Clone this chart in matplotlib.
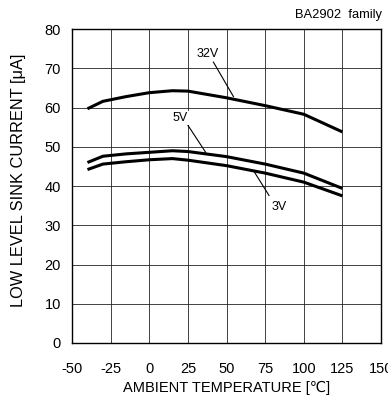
import matplotlib
matplotlib.use('Agg')
import matplotlib.pyplot as plt

plt.rcParams['font.family'] = ['Liberation Sans', 'DejaVu Sans']
plt.rcParams['axes.unicode_minus'] = False

# data
temp = [-40, -30, -15, 0, 15, 25, 50, 75, 100, 125]
i_32v = [59.7, 61.6, 62.8, 63.8, 64.3, 64.2, 62.5, 60.5, 58.3, 53.8]
i_5v = [46.0, 47.6, 48.2, 48.6, 49.0, 48.8, 47.5, 45.6, 43.3, 39.4]
i_3v = [44.2, 45.6, 46.2, 46.7, 47.0, 46.6, 45.2, 43.3, 41.0, 37.5]

# curve labels: text, text position, leader start, leader end
labels = [
    ('32V', (38, 73.6), (41.5, 71.6), (54.5, 62.8)),
    ('5V', (20, 57.3), (24.5, 55.8), (36.5, 48.6)),
    ('3V', (84, 34.6), (77.5, 37.6), (68, 43.6)),
]

fig = plt.figure(figsize=(3.88, 3.99), dpi=100)
ax = fig.add_axes([0.1856, 0.1404, 0.7964, 0.7866])

for y in (i_32v, i_5v, i_3v):
    ax.plot(temp, y, color='black', lw=2.2, solid_capstyle='butt', zorder=3)

ax.set_xlim(-50, 150)
ax.set_ylim(0, 80)
ax.set_xticks(range(-50, 151, 25))
ax.set_yticks(range(0, 81, 10))
ax.grid(True, color='#222222', lw=0.6)
ax.tick_params(length=0, labelsize=10.5)
ax.tick_params(axis='x', pad=14)
ax.tick_params(axis='y', pad=8)
for s in ax.spines.values():
    s.set_linewidth(1.0)

ax.set_xlabel('AMBIENT TEMPERATURE [\u2103]', fontsize=10.5, labelpad=3)
ax.set_ylabel('LOW LEVEL SINK CURRENT [\u03bcA]', fontsize=11.8)
ax.yaxis.set_label_coords(-0.15, 0.517)

for txt, tpos, p0, p1 in labels:
    ax.text(tpos[0], tpos[1], txt, fontsize=9, ha='center', va='center',
            bbox=dict(facecolor='white', edgecolor='none', pad=0.5), zorder=4)
    ax.plot([p0[0], p1[0]], [p0[1], p1[1]], color='black', lw=0.8, zorder=3)

fig.text(0.985, 0.963, 'BA2902  family', ha='right', va='center', fontsize=9.3)

fig.savefig('out.png', dpi=100)
